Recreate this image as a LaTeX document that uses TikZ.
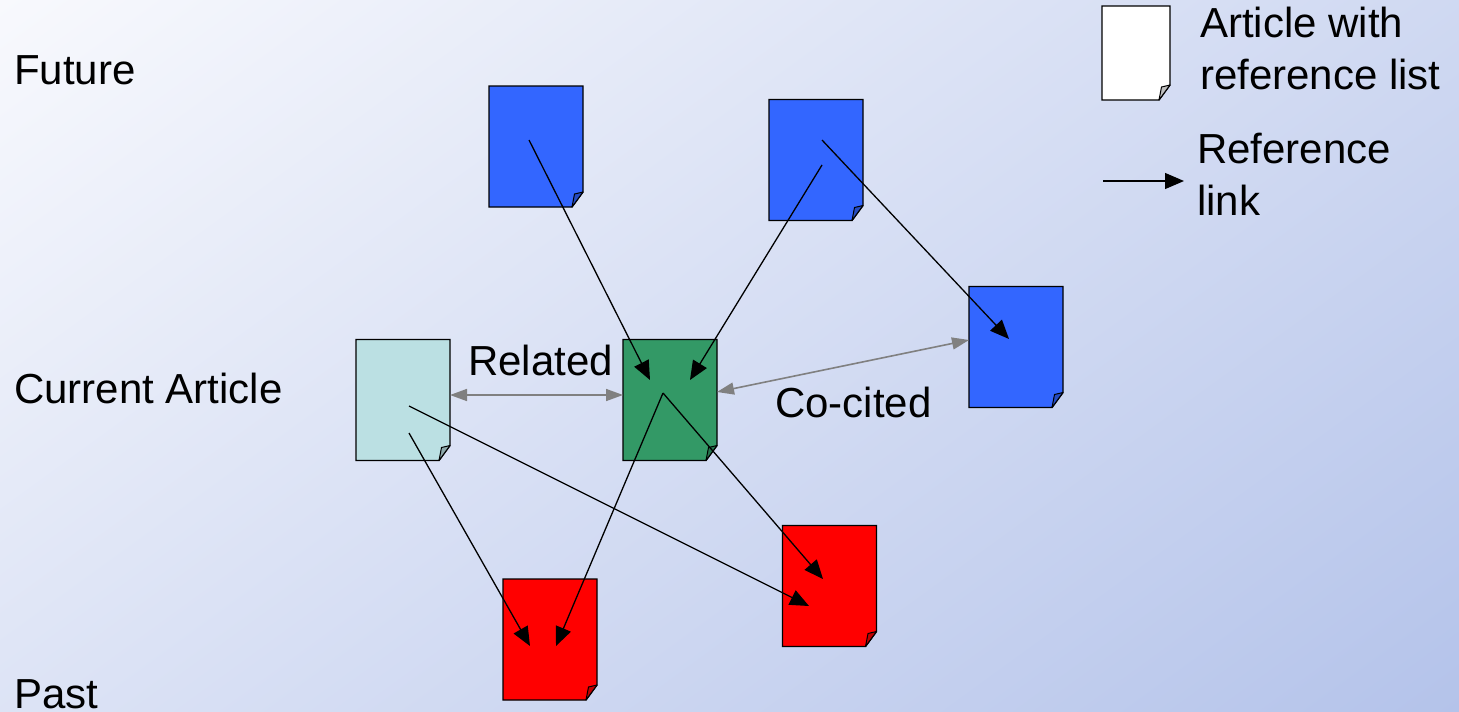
\documentclass[tikz,border=0pt]{standalone}
\usepackage{fontspec}
\setmainfont{Liberation Sans}
\usetikzlibrary{arrows.meta}
\definecolor{bgA}{RGB}{248,249,253}
\definecolor{bgB}{RGB}{180,195,234}
\definecolor{docblue}{RGB}{51,102,255}
\definecolor{docgreen}{RGB}{51,153,102}
\definecolor{doccyan}{RGB}{187,224,227}
\definecolor{docred}{RGB}{255,0,0}
\definecolor{linkgray}{RGB}{128,128,128}
\pgfdeclarehorizontalshading{bgshade}{100bp}{color(0bp)=(bgA); color(100bp)=(bgB)}
\newcommand{\docpage}[2]{%
  \filldraw[fill=#2, draw=black, line width=1.4pt, line join=miter]
    (#1.north west) -- (#1.north east) -- ([yshift=15pt]#1.south east)
    -- ([xshift=-11pt]#1.south east) -- (#1.south west) -- cycle;
  \filldraw[fill=#2!75!black, draw=black, line width=1pt, line join=round]
    ([xshift=-11pt]#1.south east) -- ([xshift=-8.5pt,yshift=13pt]#1.south east)
    -- ([yshift=15pt]#1.south east) -- cycle;
}
\tikzset{
  docbox/.style={draw=none, minimum width=94pt, minimum height=121pt, inner sep=0pt, outer sep=0pt},
  reflink/.style={draw=black, line width=1.3pt, -{Triangle[length=19pt,width=16pt]}},
  graylink/.style={draw=linkgray, line width=1.6pt, {Triangle[length=17pt,width=12pt]}-{Triangle[length=17pt,width=12pt]}},
  lbl/.style={anchor=base west, inner sep=0pt, font=\fontsize{42}{52}\selectfont, align=left}
}
\begin{document}
\begin{tikzpicture}[x=1pt,y=-1pt]
\useasboundingbox (0,0) rectangle (1459,712);
\begin{scope}
  \clip (0,0) rectangle (1459,712);
  \begin{scope}[shift={(729.5,356)}, rotate=-54, xscale=14.29, yscale=30]
    \pgflowlevelsynccm
    \pgfuseshading{bgshade}
  \end{scope}
\end{scope}

% documents
\node[docbox] (d1) at (536,146.5) {};
\node[docbox] (d2) at (816,160) {};
\node[docbox] (d3) at (1016,347) {};
\node[docbox] (cur) at (403,400) {};
\node[docbox] (grn) at (670,400) {};
\node[docbox] (p1) at (550,639.5) {};
\node[docbox] (p2) at (829.5,586) {};
\node[docbox, minimum width=68pt, minimum height=94pt] (leg) at (1136,53) {};
\docpage{d1}{docblue}
\docpage{d2}{docblue}
\docpage{d3}{docblue}
\docpage{cur}{doccyan}
\docpage{grn}{docgreen}
\docpage{p1}{docred}
\docpage{p2}{docred}
\docpage{leg}{white}

% link end points
\coordinate (s1) at (529,140);
\coordinate (t1) at (650,380);
\coordinate (s2) at (822,165);
\coordinate (t2) at (690,380);
\coordinate (s3) at (822,140);
\coordinate (t3) at (1009,339);
\coordinate (s4) at (409,406);
\coordinate (t4) at (809,606);
\coordinate (s5) at (409,433);
\coordinate (t5) at (530,646);
\coordinate (s6) at (663,393);
\coordinate (t6) at (556,646);
\coordinate (t7) at (823,579);
\coordinate (la) at (1103,181);
\coordinate (lb) at (1184,181);

% reference links
\draw[reflink] (s1) -- (t1);
\draw[reflink] (s2) -- (t2);
\draw[reflink] (s3) -- (t3);
\draw[reflink] (s4) -- (t4);
\draw[reflink] (s5) -- (t5);
\draw[reflink] (s6) -- (t6);
\draw[reflink] (s6) -- (t7);
\draw[reflink] (la) -- (lb);

% related / co-cited
\draw[graylink] ([yshift=5pt]cur.east) -- ([yshift=5pt]grn.west);
\draw[graylink] ([yshift=8pt]grn.east) -- ([yshift=7pt]d3.west);

% labels
\node[lbl] (future) at (14,84) {Future};
\node[lbl] (current) at (14,403) {Current Article};
\node[lbl] (past) at (14,708) {Past};
\node[lbl] (related) at (468,375) {Related};
\node[lbl] (cocited) at (775,417) {Co-cited};
\node[lbl] (legdoc) at (1200,89) {Article with\\reference list};
\node[lbl] (leglink) at (1197,215) {Reference\\link};
\end{tikzpicture}
\end{document}
